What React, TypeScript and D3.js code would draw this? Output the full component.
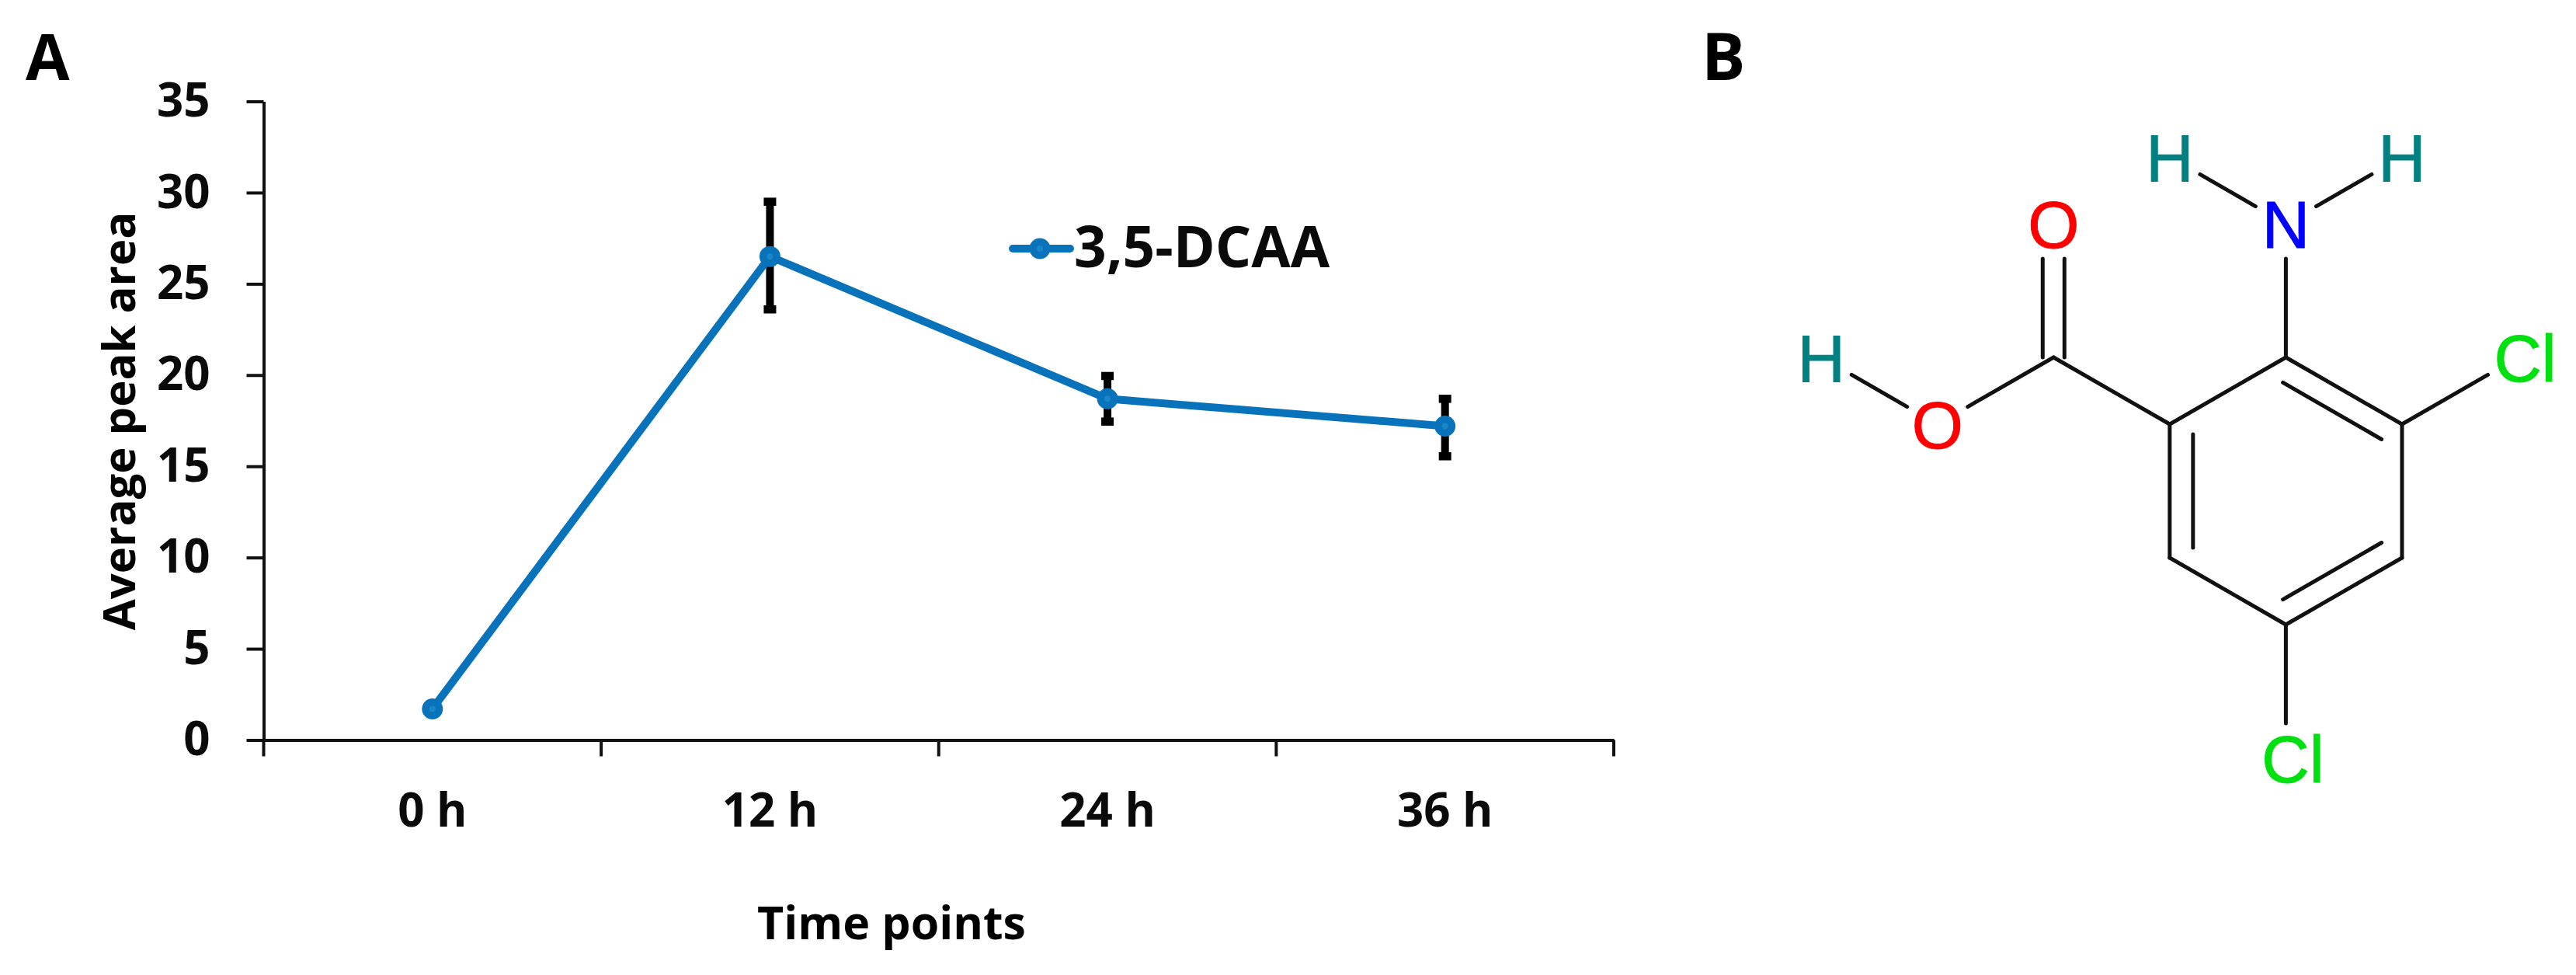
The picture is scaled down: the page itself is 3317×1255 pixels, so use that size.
import React, { useEffect, useRef } from "react";
import * as d3 from "d3";

const timePoints = ["0 h", "12 h", "24 h", "36 h"];
const peakArea = [1.7, 26.5, 18.7, 17.2];
const errorLow = [1.7, 23.6, 17.45, 15.55];
const errorHigh = [1.7, 29.5, 19.95, 18.7];
const yTicks = [0, 5, 10, 15, 20, 25, 30, 35];

// molecule in bond-length units, ring centre at 0,0 and y pointing up
const atomIds = ["C1", "C2", "C3", "C4", "C5", "C6", "C7", "O1", "O2", "H1", "N", "H2", "H3", "Cl1", "Cl2"];
const atomX = [0, 0.866, 0.866, 0, -0.866, -0.866, -1.732, -1.732, -2.598, -3.464, 0, -0.866, 0.866, 1.732, 0];
const atomY = [1, 0.5, -0.5, -1, -0.5, 0.5, 1, 2, 0.5, 1, 2, 2.5, 2.5, 1, -2];
const atomLabels = ["", "", "", "", "", "", "", "O", "O", "H", "N", "H", "H", "Cl", "Cl"];
const singleBonds = [
  ["C2", "C3"], ["C4", "C5"], ["C6", "C1"], ["C6", "C7"], ["C7", "O2"], ["O2", "H1"],
  ["C1", "N"], ["N", "H2"], ["N", "H3"], ["C2", "Cl1"], ["C4", "Cl2"],
  ["C1", "C2"], ["C3", "C4"], ["C5", "C6"],
];
const ringInnerBonds = [["C1", "C2"], ["C3", "C4"], ["C5", "C6"]];
const carbonyl = ["C7", "O1"];

const FONT = "'Open Sans', sans-serif";
const BLUE = "#0873bb";
const atomColor: Record<string, string> = { H: "#008080", N: "#0000ff", O: "#ff0000", Cl: "#00e010" };

const App: React.FC = () => {
  const svgRef = useRef<SVGSVGElement | null>(null);

  useEffect(() => {
    if (!svgRef.current) return;
    const svg = d3.select(svgRef.current);
    svg.selectAll("*").remove();

    const left = 339.5, right = 2078, top = 130.5, bottom = 952.5;
    const x = d3.scaleBand<string>().domain(timePoints).range([left, right]);
    const y = d3.scaleLinear().domain([0, 35]).range([bottom, top]);
    const cx = (d: string) => (x(d) as number) + x.bandwidth() / 2;

    // --- PANEL A AXES ---
    const yAxis = svg.append("g").attr("transform", `translate(${left},0)`)
      .call(d3.axisLeft(y).tickValues(yTicks).tickSize(22).tickPadding(47).tickSizeOuter(0));
    const xAxis = svg.append("g").attr("transform", `translate(0,${bottom})`)
      .call(d3.axisBottom(x).tickSize(0).tickPadding(69));
    for (const g of [yAxis, xAxis]) {
      g.selectAll("path,line").attr("stroke", "#111").attr("stroke-width", 4);
      g.selectAll("text").attr("fill", "#0a0a0a").style("font-family", FONT).style("font-weight", 700).style("font-size", "60px");
    }

    // ticks between the categories
    const edges = [...timePoints.map((d) => x(d) as number), right];
    svg.append("g").selectAll("line").data(edges).enter().append("line")
      .attr("x1", (d) => d).attr("x2", (d) => d)
      .attr("y1", bottom).attr("y2", bottom + 21)
      .attr("stroke", "#111").attr("stroke-width", 4);

    svg.append("text")
      .attr("transform", "translate(174,542) rotate(-90)")
      .attr("text-anchor", "middle")
      .style("font-family", FONT).style("font-weight", 700).style("font-size", "58px")
      .text("Average peak area");
    svg.append("text")
      .attr("x", 1148).attr("y", 1208.5)
      .attr("text-anchor", "middle")
      .style("font-family", FONT).style("font-weight", 700).style("font-size", "59px")
      .text("Time points");

    // --- ERROR BARS ---
    const err = svg.append("g").attr("stroke", "#000");
    timePoints.forEach((d, i) => {
      if (errorHigh[i] === errorLow[i]) return;
      err.append("line").attr("x1", cx(d)).attr("x2", cx(d)).attr("y1", y(errorLow[i])).attr("y2", y(errorHigh[i])).attr("stroke-width", 10);
      for (const v of [errorLow[i], errorHigh[i]]) {
        err.append("line").attr("x1", cx(d) - 8).attr("x2", cx(d) + 8).attr("y1", y(v)).attr("y2", y(v)).attr("stroke-width", 10.5);
      }
    });

    // --- SERIES ---
    const line = d3.line<number>().x((_, i) => cx(timePoints[i])).y((d) => y(d));
    svg.append("path").datum(peakArea).attr("d", line)
      .attr("fill", "none").attr("stroke", BLUE).attr("stroke-width", 10);
    svg.append("g").selectAll("circle").data(peakArea).enter().append("circle")
      .attr("cx", (_, i) => cx(timePoints[i])).attr("cy", (d) => y(d))
      .attr("r", 13.5).attr("fill", BLUE);
    svg.append("g").selectAll("circle").data(peakArea).enter().append("circle")
      .attr("cx", (_, i) => cx(timePoints[i])).attr("cy", (d) => y(d))
      .attr("r", 4).attr("fill", "#1a86c8");

    // --- LEGEND ---
    svg.append("line").attr("x1", 1304).attr("x2", 1378).attr("y1", 320).attr("y2", 320)
      .attr("stroke", BLUE).attr("stroke-width", 10).attr("stroke-linecap", "round");
    svg.append("circle").attr("cx", 1339).attr("cy", 320).attr("r", 13.5).attr("fill", BLUE);
    svg.append("circle").attr("cx", 1339).attr("cy", 320).attr("r", 4).attr("fill", "#1a86c8");
    svg.append("text").attr("x", 1383).attr("y", 344)
      .style("font-family", FONT).style("font-weight", 700).style("font-size", "73px").attr("fill", "#0a0a0a")
      .text("3,5-DCAA");

    // --- PANEL LETTERS ---
    svg.append("text").attr("x", 33).attr("y", 102.5)
      .style("font-family", FONT).style("font-weight", 700).style("font-size", "82px").text("A");
    svg.append("text").attr("x", 2191).attr("y", 103)
      .style("font-family", FONT).style("font-weight", 700).style("font-size", "84px").text("B");

    // --- PANEL B MOLECULE ---
    const mx = d3.scaleLinear().domain([0, 1]).range([2943.4, 2943.4 + 172.7]);
    const my = d3.scaleLinear().domain([0, 1]).range([632, 632 - 172]);
    const atoms = new Map(atomIds.map((id, i) => [id, { x: mx(atomX[i]), y: my(atomY[i]), label: atomLabels[i] }]));

    const mol = svg.append("g").attr("stroke", "#111").attr("stroke-width", 5).attr("stroke-linecap", "round");
    const segment = (a: any, b: any, gapA: number, gapB: number, ox = 0, oy = 0) => {
      const len = Math.hypot(b.x - a.x, b.y - a.y);
      const ux = (b.x - a.x) / len, uy = (b.y - a.y) / len;
      mol.append("line")
        .attr("x1", a.x + ux * gapA + ox).attr("y1", a.y + uy * gapA + oy)
        .attr("x2", b.x - ux * gapB + ox).attr("y2", b.y - uy * gapB + oy);
    };
    const GAP = 45;
    singleBonds.forEach(([p, q]) => {
      const a = atoms.get(p), b = atoms.get(q);
      segment(a, b, a!.label ? GAP : 0, b!.label ? GAP : 0);
    });
    // inner strokes of the ring double bonds lean toward the ring centre
    const ringCx = mx(0), ringCy = my(0);
    ringInnerBonds.forEach(([p, q]) => {
      const a = atoms.get(p)!, b = atoms.get(q)!;
      const midX = (a.x + b.x) / 2, midY = (a.y + b.y) / 2;
      const d = Math.hypot(ringCx - midX, ringCy - midY);
      segment(a, b, 13, 13, ((ringCx - midX) / d) * 30, ((ringCy - midY) / d) * 30);
    });
    const cA = atoms.get(carbonyl[0])!, oA = atoms.get(carbonyl[1])!;
    segment(cA, oA, 0, GAP, -14, 0);
    segment(cA, oA, 0, GAP, 14, 0);

    svg.append("g").selectAll("text").data(Array.from(atoms.values()).filter((a) => a.label)).enter().append("text")
      .attr("x", (a) => a.x + (a.label === "Cl" ? 9 : 0))
      .attr("y", (a) => a.y + 31)
      .attr("text-anchor", "middle")
      .attr("fill", (a) => atomColor[a.label])
      .attr("stroke", (a) => atomColor[a.label])
      .attr("stroke-width", 1)
      .style("font-family", "'Liberation Sans', sans-serif").style("font-size", "85px")
      .text((a) => a.label);
  }, []);

  return (
    <svg
      ref={svgRef}
      width={3317}
      height={1255}
      style={{ position: "absolute", left: 0, top: 0, background: "#fff" }}
    />
  );
};

export default App;
